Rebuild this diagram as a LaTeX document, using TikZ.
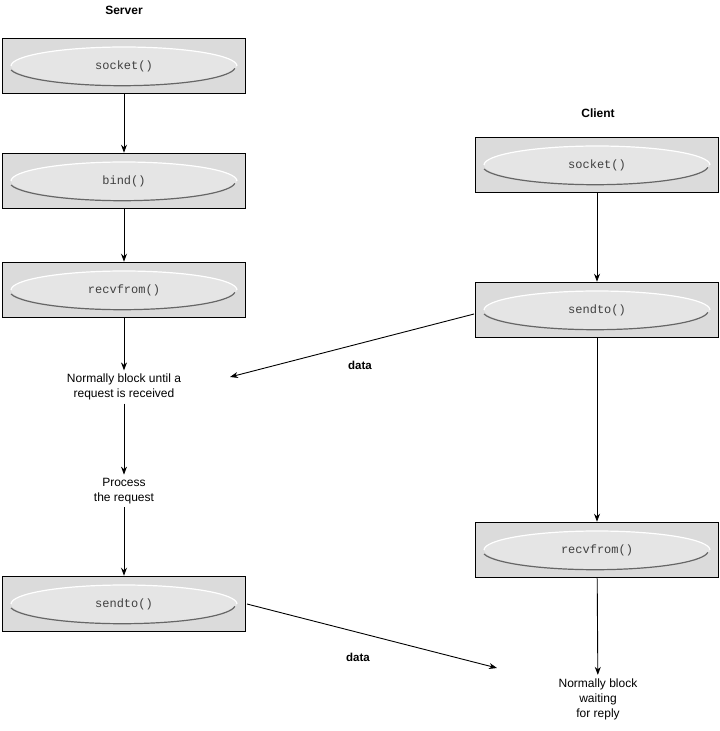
\documentclass[tikz,border=0pt]{standalone}
\usepackage{fontspec}
\setmainfont{Liberation Sans}
\setmonofont{Liberation Mono}
\usetikzlibrary{arrows.meta}
\tikzset{
  callbox/.style={draw=black, line width=1.6pt, fill=black!14, minimum width=243pt, minimum height=55pt, inner sep=0pt},
  lbl/.style={align=center, font=\fontsize{12}{15}\selectfont},
  ttl/.style={font=\bfseries\fontsize{12}{14}\selectfont},
  dlbl/.style={font=\bfseries\fontsize{11.5}{14}\selectfont},
  arr/.style={-{Stealth[length=8pt,width=6pt]}, line width=0.9pt}
}
\newcommand{\callbx}[4]{%
  \node[callbox] (#1) at (#2,#3) {};
  \fill[black!10] (#2,#3) ellipse (113pt and 19pt);
  \draw[white, line width=1.2pt] ([xshift=-113pt]#2,#3) arc (180:0:113pt and 19pt);
  \draw[black!60, line width=1.2pt] ([xshift=-113pt,yshift=-4pt]#2,#3) arc (190:355:113pt and 19pt);
  \node[font=\ttfamily\fontsize{12}{14}\selectfont, text=black!75] at (#2,#3) {#4};
}
\begin{document}
\begin{tikzpicture}[x=1pt,y=-1pt]
\useasboundingbox (0,0) rectangle (720,731);
\node[ttl] (srv) at (124,10) {Server};
\node[ttl] (cli) at (598,113) {Client};
\callbx{s1}{124}{66}{socket()}
\callbx{s2}{124}{181}{bind()}
\callbx{s3}{124}{290}{recvfrom()}
\callbx{s4}{124}{604}{sendto()}
\callbx{c1}{597}{165}{socket()}
\callbx{c2}{597}{310}{sendto()}
\callbx{c3}{597}{550}{recvfrom()}
\node[lbl] (t1) at (124,387) {Normally block until a\\request is received};
\node[lbl] (t2) at (124,491) {Process\\the request};
\node[lbl] (t3) at (598,699) {Normally block\\waiting\\for reply};
\draw[arr] (s1) -- (s2);
\draw[arr] (s2) -- (s3);
\draw[arr] (s3) -- (t1);
\draw[arr] (t1) -- (t2);
\draw[arr] (t2) -- (s4);
\draw[arr] (c1) -- (c2);
\draw[arr] (c2) -- (c3);
\draw[arr] (c3) -- (t3);
\coordinate (a1) at (474,314);
\coordinate (a2) at (230,377);
\draw[arr] (a1) -- (a2);
\node[dlbl] (d1) at (360,365) {data};
\coordinate (b1) at (247,604);
\coordinate (b2) at (497,668);
\draw[arr] (b1) -- (b2);
\node[dlbl] (d2) at (358,657) {data};
\end{tikzpicture}
\end{document}
